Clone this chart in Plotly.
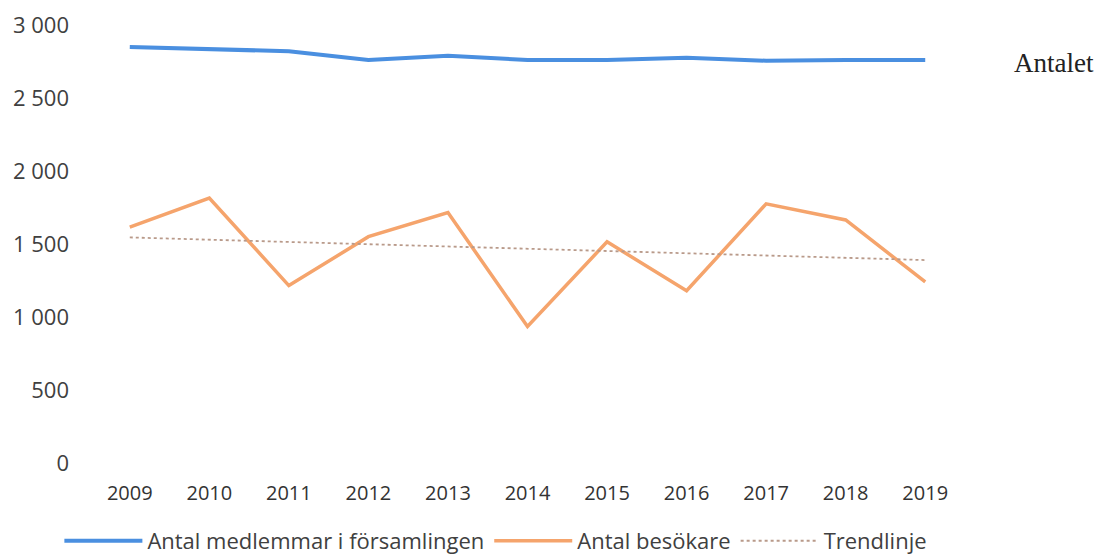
import plotly.graph_objects as go

# ── Data ──────────────────────────────────────────────────────────────────────
years = [2009, 2010, 2011, 2012, 2013, 2014, 2015, 2016, 2017, 2018, 2019]
medlemmar = [2850, 2835, 2820, 2760, 2790, 2760, 2760, 2775, 2755, 2760, 2760]
besokare = [1615, 1815, 1215, 1550, 1715, 935, 1515, 1180, 1775, 1665, 1240]
trend_years = [2009, 2019]
trend_values = [1545, 1390]

# ── Styling ───────────────────────────────────────────────────────────────────
C_BLUE = "#4A8FE0"
C_ORANGE = "#F5A46C"
C_TREND = "#B99A8A"
C_TEXT = "#404040"
FONT = "'Open Sans', Lato, sans-serif"

fig = go.Figure()
fig.add_trace(go.Scatter(
    x=years, y=medlemmar, mode="lines", name="Antal medlemmar i församlingen",
    line=dict(color=C_BLUE, width=4),
))
fig.add_trace(go.Scatter(
    x=years, y=besokare, mode="lines", name="Antal besökare",
    line=dict(color=C_ORANGE, width=3.5),
))
fig.add_trace(go.Scatter(
    x=trend_years, y=trend_values, mode="lines", name="Trendlinje",
    line=dict(color=C_TREND, width=1.8, dash="dot"),
))

fig.add_annotation(
    text="Antalet", xref="paper", yref="paper", x=1.102, y=0.913,
    xanchor="center", yanchor="middle", showarrow=False,
    font=dict(family="Liberation Serif", size=27, color="#222222"),
)

# the page body adds an 8px offset, so margins are shifted to compensate
fig.update_layout(
    width=1104, height=557,
    paper_bgcolor="white", plot_bgcolor="white",
    margin=dict(l=82, r=147, t=17, b=102, autoexpand=False),
    font=dict(family=FONT, size=18, color=C_TEXT),
    showlegend=True,
    legend=dict(
        orientation="h", x=-0.035, y=-0.178, xanchor="left", yanchor="middle",
        font=dict(size=22, color=C_TEXT), bgcolor="rgba(0,0,0,0)",
        itemwidth=78, traceorder="normal",
    ),
)
fig.update_xaxes(
    range=[2008.5, 2019.5], tickmode="array", tickvals=years,
    ticktext=[str(y) for y in years], showgrid=False, zeroline=False,
    showline=False, ticks="", ticklabelstandoff=16, automargin=False,
    tickfont=dict(size=20, color="#333333"),
)
fig.update_yaxes(
    range=[0, 3000], tickvals=[0, 500, 1000, 1500, 2000, 2500, 3000],
    ticktext=["0", "500", "1 000", "1 500", "2 000", "2 500", "3 000"],
    showgrid=False, zeroline=False, showline=False, ticks="", automargin=False,
    ticklabelstandoff=20, tickfont=dict(size=22, color=C_TEXT),
)

fig.write_html("out.html")
